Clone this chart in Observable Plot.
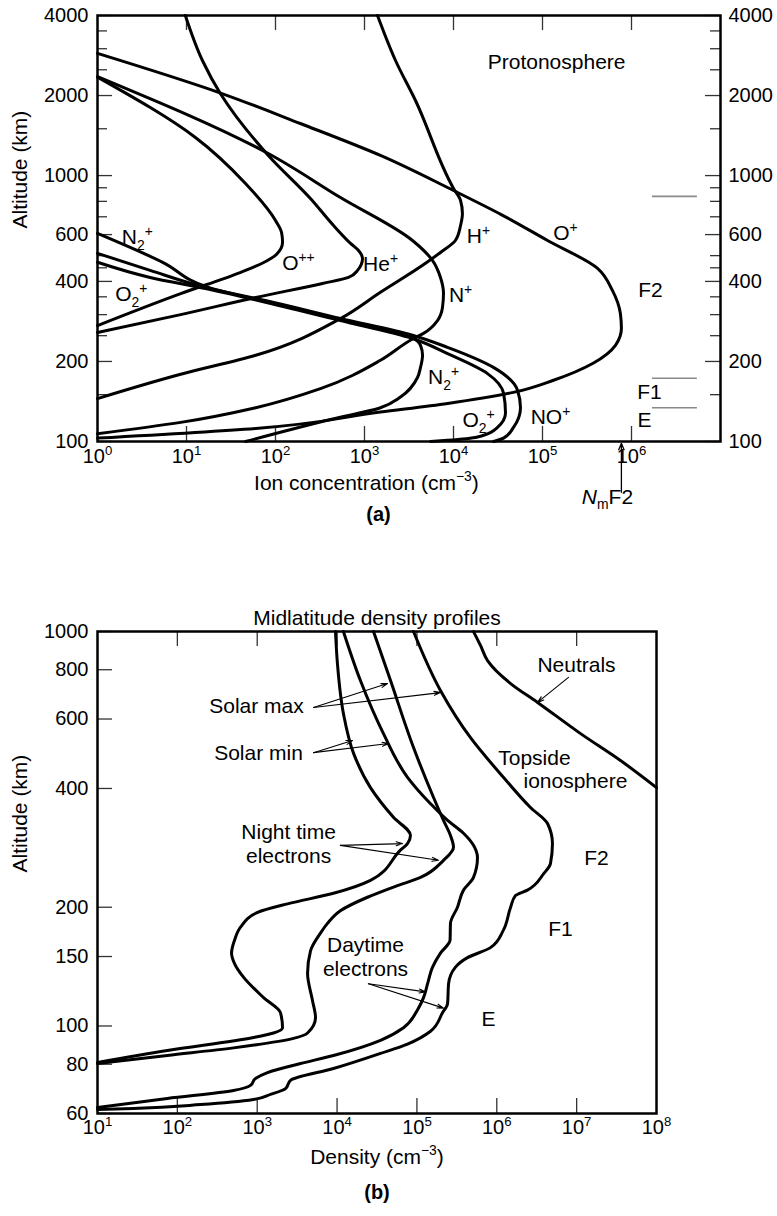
<!DOCTYPE html>
<html><head><meta charset="utf-8">
<script src="https://cdn.jsdelivr.net/npm/d3@7"></script>
<script src="https://cdn.jsdelivr.net/npm/@observablehq/plot@0.6"></script>
<style>
body{margin:0;background:#fff}
#wrap{position:relative;width:777px;height:1216px;background:#fff;overflow:hidden}
#a,#b{position:absolute;left:0}
#a{top:0}#b{top:560px}
svg{display:block;overflow:visible}
</style></head><body>
<div id="wrap"><div id="a"></div><div id="b"></div></div>
<script>
// ---------- Panel (a): ion concentration [cm^-3, altitude km] ----------
const oPlus = [[1,2881],[25,2035],[190,1570],[1510,1191],[1.0e4,879],[3.4e4,715],[1.14e5,570],[4.15e5,448],[6.1e5,370],[7.5e5,303],[7.7e5,266],[6.6e5,230],[3.7e5,197],[1.33e5,170],[4.7e4,153],[8600,139],[1510,129],[60,112],[1,103]];
const hPlus = [[1400,4000],[2230,2709],[3740,1916],[1.0e4,895],[1.2e4,806],[1.26e4,720],[1.2e4,649],[1.05e4,570],[7140,514],[4850,468],[1510,364],[537,290],[60,211],[8.6,179],[1,145]];
const hePlus = [[9.7,4000],[15.1,2709],[24,2035],[83,1191],[247,820],[449,649],[697,556],[857,523],[950,488],[835,440],[661,414],[337,393],[60,348],[8.6,300],[1,257]];
const oPlusPlus = [[1,2345],[12.6,1391],[46,934],[100,678],[117,611],[120,561],[103,506],[71,468],[40,432],[8.6,360],[1,273]];
const nPlus = [[1,2358],[83,1211],[537,827],[3460,570],[5800,480],[7140,414],[7720,361],[7520,319],[6610,285],[4600,255],[3550,244],[1510,202],[320,158],[60,134],[8.6,118],[1,107]];
const n2Plus = [[1,606],[5.4,472],[17.7,380],[77,336],[537,288],[3460,246],[4260,230],[4490,211],[4260,190],[3940,174],[2540,147],[1510,134],[415,121],[46,100]];
const noPlus = [[1,510],[3.9,440],[16.3,380],[77,339],[537,290],[3460,251],[8570,226],[2.81e4,190],[5.24e4,156],[5.66e4,134],[4.72e4,113],[3.65e4,103],[2.81e4,100]];
const o2Plus = [[1,472],[3.9,414],[16.3,376],[77,334],[537,285],[3460,244],[8570,214],[2.41e4,180],[3.65e4,152],[3.84e4,128],[3.12e4,113],[1.86e4,104],[8570,101],[5520,100]];
const ionSeries = [["O+",oPlus],["H+",hPlus],["He+",hePlus],["O++",oPlusPlus],["N+",nPlus],["N2+",n2Plus],["NO+",noPlus],["O2+",o2Plus]];

const xLabelTicksA = [1,10,100,1e3,1e4,1e5,1e6];
const xInnerTicksA = [10,100,1e3,1e4,1e5,1e6];
const yMajorA = [100,200,400,600,1000,2000,4000];
const yMinorA = [150,250,300,350,450,500,700,800,900,1500,2500,3000,3500];
const regionBounds = [{alt:835,from:1.72e6,to:5.5e6},{alt:173,from:1.72e6,to:5.5e6},{alt:134,from:1.72e6,to:5.5e6}];
const ionLabels = [
  {text:"Protonosphere",conc:1.44e5,alt:2663},
  {text:"O^{+}",conc:1.81e5,alt:606},
  {text:"H^{+}",conc:1.91e4,alt:590},
  {text:"N^{+}",conc:1.2e4,alt:354},
  {text:"He^{+}",conc:1514,alt:464},
  {text:"O^{++}",conc:181,alt:468},
  {text:"N_{2}^{+}",conc:2.8,alt:585},
  {text:"O_{2}^{+}",conc:2.4,alt:358},
  {text:"N_{2}^{+}",conc:7720,alt:174},
  {text:"O_{2}^{+}",conc:1.91e4,alt:120},
  {text:"NO^{+}",conc:1.23e5,alt:123},
  {text:"F2",conc:1.63e6,alt:370},
  {text:"F1",conc:1.59e6,alt:153},
  {text:"E",conc:1.4e6,alt:120}
];

// ---------- Panel (b): midlatitude density profiles ----------
const neutrals = [[5.11e5,1000],[6.25e5,922],[7.66e5,844],[1.49e6,738],[3.24e6,661],[1.12e7,551],[3.54e7,471],[1e8,402]];
const nightSolarMin = [[9550,1000],[1.01e4,830],[1.2e4,620],[1.61e4,491],[2.62e4,402],[5.08e4,338],[8.3e4,304],[7.62e4,290],[6.22e4,279],[2.62e4,234],[9020,217],[2400,204],[1010,194],[618,178],[520,165],[477,153],[520,144],[673,133],[1200,118],[1958,108],[2075,99],[1600,96],[898,93.5],[75,86.7],[10,80.8]];
const nightSolarMax = [[2.86e4,1000],[4.67e4,751],[9.06e4,508],[1.61e5,380],[2.15e5,332],[2.63e5,304],[2.87e5,284],[2.15e5,263],[1.11e5,238],[5.4e4,226],[2.4e4,212],[1.1e4,196],[7590,182],[6200,172],[4650,155],[4270,136],[4920,116],[5370,105],[4270,96],[2845,93],[505,88],[75,84.2],[10,80.3]];
const daySolarMin = [[1.2e4,1000],[1.96e4,751],[3.81e4,551],[7.62e4,427],[1.48e5,366],[2.42e5,332],[3.83e5,308],[5.11e5,287],[5.73e5,267],[5.11e5,238],[3.83e5,221],[3.22e5,200],[2.63e5,182],[2.6e5,165],[1.97e5,153],[1.57e5,141],[1.36e5,128],[1.21e5,118],[1.02e5,110],[6.79e4,99],[3.5e4,92],[9020,84.2],[3480,80.3],[1346,76.2],[951,73.6],[824,70.7],[505,68.6],[75,65.5],[10,62.1]];
const daySolarMax = [[9.06e4,1000],[1.97e5,709],[4.69e5,538],[1.21e6,427],[2.64e6,358],[4.32e6,326],[4.98e6,290],[4.7e6,258],[3.85e6,243],[2.42e6,221],[1.71e6,214],[1.49e6,200],[1.21e6,175],[8.34e5,158],[4.3e5,149],[3.04e5,141],[2.49e5,128],[2.42e5,114],[2.09e5,108],[1.48e5,97],[7.62e4,90],[3.5e4,85.2],[9020,78],[2610,72.8],[2262,69.4],[1466,67.1],[898,65.1],[195,63.2],[28,61.8],[10,61.4]];
const profileSeries = [["Neutrals",neutrals],["Night min",nightSolarMin],["Night max",nightSolarMax],["Day min",daySolarMin],["Day max",daySolarMax]];

const xLabelTicksB = [10,100,1e3,1e4,1e5,1e6,1e7,1e8];
const xInnerTicksB = [100,1e3,1e4,1e5,1e6,1e7];
const yTicksB = [60,80,100,150,200,400,600,800,1000];
const profileLabels = [
  {text:"Solar max",d:979,alt:649},
  {text:"Solar min",d:1037,alt:493},
  {text:"Neutrals",d:9.95e6,alt:825},
  {text:"Topside",d:2.96e6,alt:479},
  {text:"ionosphere",d:9.66e6,alt:419},
  {text:"F2",d:1.77e7,alt:267},
  {text:"F1",d:6.28e6,alt:177},
  {text:"E",d:7.87e5,alt:104.5},
  {text:"Night time\nelectrons",d:2.47e3,alt:290},
  {text:"Daytime\nelectrons",d:2.27e4,alt:150}
];
const pointerArrows = [
  {x1:5.07e3,y1:642,x2:4.28e4,y2:738},{x1:5.07e3,y1:642,x2:1.97e5,y2:700},
  {x1:5.07e3,y1:493,x2:1.56e4,y2:529},{x1:5.07e3,y1:493,x2:4.41e4,y2:520},
  {x1:7.9e6,y1:765,x2:3.24e6,y2:661},
  {x1:1.1e4,y1:287,x2:6.59e4,y2:290},{x1:1.1e4,y1:287,x2:1.86e5,y2:263},
  {x1:2.47e4,y1:128,x2:1.28e5,y2:122},{x1:2.47e4,y1:128,x2:2.15e5,y2:111}
];

// ---------- helpers ----------
const toRows = series => series.flatMap(([name, pts]) => pts.map(([v, alt]) => ({name, v, alt})));
const pow10 = d => `10^{${Math.round(Math.log10(d))}}`;
const FONT = "'Liberation Sans', Arial, Helvetica, sans-serif";
const TICK = "#333";

function richify(svg){
  const NS = "http://www.w3.org/2000/svg";
  svg.querySelectorAll("text").forEach(t => {
    const s = t.textContent;
    if (!/[\^_*]\{/.test(s)) return;
    const fs = parseFloat(getComputedStyle(t).fontSize) || 20;
    while (t.firstChild) t.removeChild(t.firstChild);
    let shift = 0;
    s.split(/([\^_*]\{[^}]*\})/).forEach(p => {
      if (!p) return;
      const kind = (p.length > 2 && p[1] === "{" && "^_*".includes(p[0])) ? p[0] : "";
      const txt = kind ? p.slice(2, -1) : p;
      const target = kind === "^" ? -0.4 * fs : kind === "_" ? 0.28 * fs : 0;
      const ts = document.createElementNS(NS, "tspan");
      if (target !== shift) { ts.setAttribute("dy", (target - shift).toFixed(2)); shift = target; }
      if (kind === "^" || kind === "_") ts.setAttribute("font-size", (0.66 * fs).toFixed(1));
      if (kind === "*") ts.setAttribute("font-style", "italic");
      ts.textContent = txt;
      t.appendChild(ts);
    });
  });
}

// ---------- Panel (a) ----------
const WA = 777, HA = 560, mA = {top:15, right:57, bottom:119, left:97};
const fwA = WA - mA.left - mA.right, fhA = HA - mA.top - mA.bottom;
const nmF2 = d3.max(oPlus, d => d[0]);
const plotA = Plot.plot({
  width: WA, height: HA,
  marginTop: mA.top, marginRight: mA.right, marginBottom: mA.bottom, marginLeft: mA.left,
  x: {type: "log", domain: [1, 1e7], axis: null},
  y: {type: "log", domain: [100, 4000], axis: null},
  style: {fontFamily: FONT, fontSize: "20px", background: "white", color: "black"},
  marks: [
    Plot.ruleX(xInnerTicksA, {x: d => d, insetTop: fhA - 15, stroke: TICK, strokeWidth: 1.3}),
    Plot.ruleX(xInnerTicksA, {x: d => d, insetBottom: fhA - 15, stroke: TICK, strokeWidth: 1.3}),
    Plot.ruleY(yMajorA, {y: d => d, insetRight: fwA - 15, stroke: TICK, strokeWidth: 1.3}),
    Plot.ruleY(yMinorA, {y: d => d, insetRight: fwA - 10, stroke: TICK, strokeWidth: 1.3}),
    Plot.ruleY(yMajorA, {y: d => d, insetLeft: fwA - 15, stroke: TICK, strokeWidth: 1.3}),
    Plot.ruleY(yMinorA, {y: d => d, insetLeft: fwA - 10, stroke: TICK, strokeWidth: 1.3}),
    Plot.ruleY(regionBounds, {y: "alt", x1: "from", x2: "to", stroke: "#8a8a8a", strokeWidth: 1.6}),
    Plot.line(toRows(ionSeries), {x: "v", y: "alt", z: "name", curve: "monotone-y", stroke: "black", strokeWidth: 3}),
    Plot.text(ionLabels, {x: "conc", y: "alt", text: "text", fontSize: 21, fill: "black"}),
    Plot.frame({stroke: "black", strokeWidth: 2.5}),
    Plot.text(xLabelTicksA, {x: d => d, frameAnchor: "bottom", dy: 21, text: pow10, fontSize: 20}),
    Plot.text(yMajorA, {y: d => d, frameAnchor: "left", dx: -9, textAnchor: "end", text: d => String(d), fontSize: 20}),
    Plot.text(yMajorA, {y: d => d, frameAnchor: "right", dx: 8, textAnchor: "start", text: d => String(d), fontSize: 20}),
    Plot.text(["Altitude (km)"], {frameAnchor: "left", dx: -77, rotate: -90, text: d => d, fontSize: 21}),
    Plot.text(["Ion concentration (cm^{\u22123})"], {x: 1052, frameAnchor: "bottom", dy: 48, text: d => d, fontSize: 21}),
    Plot.text(["(a)"], {x: 1437, frameAnchor: "bottom", dy: 79, text: d => d, fontSize: 20, fontWeight: "bold"}),
    Plot.text(["*{N}_{m}F2"], {x: 5.37e5, frameAnchor: "bottom", dy: 62, text: d => d, fontSize: 21}),
    Plot.arrow([nmF2], {x1: d => d, x2: d => d, y1: 64.4, y2: 98.4, stroke: "black", strokeWidth: 1.3, headLength: 8, headAngle: 45})
  ]
});
document.getElementById("a").appendChild(plotA);
richify(plotA);

// ---------- Panel (b) ----------
const WB = 777, HB = 656, mB = {top:71, right:121, bottom:103, left:97};
const fwB = WB - mB.left - mB.right, fhB = HB - mB.top - mB.bottom;
const plotB = Plot.plot({
  width: WB, height: HB,
  marginTop: mB.top, marginRight: mB.right, marginBottom: mB.bottom, marginLeft: mB.left,
  x: {type: "log", domain: [10, 1e8], axis: null},
  y: {type: "log", domain: [60, 1000], axis: null},
  style: {fontFamily: FONT, fontSize: "20px", background: "white", color: "black"},
  marks: [
    Plot.ruleX(xInnerTicksB, {x: d => d, insetTop: fhB - 15, stroke: TICK, strokeWidth: 1.3}),
    Plot.ruleX(xInnerTicksB, {x: d => d, insetBottom: fhB - 15, stroke: TICK, strokeWidth: 1.3}),
    Plot.ruleY(yTicksB, {y: d => d, insetRight: fwB - 15, stroke: TICK, strokeWidth: 1.3}),
    Plot.line(toRows(profileSeries), {x: "v", y: "alt", z: "name", curve: "monotone-y", stroke: "black", strokeWidth: 3}),
    Plot.arrow(pointerArrows, {x1: "x1", y1: "y1", x2: "x2", y2: "y2", stroke: "black", strokeWidth: 1.1, headLength: 9, headAngle: 35}),
    Plot.text(profileLabels, {x: "d", y: "alt", text: "text", fontSize: 21, lineHeight: 1.12, fill: "black"}),
    Plot.frame({stroke: "black", strokeWidth: 2.5}),
    Plot.text(xLabelTicksB, {x: d => d, frameAnchor: "bottom", dy: 20, text: pow10, fontSize: 20}),
    Plot.text(yTicksB, {y: d => d, frameAnchor: "left", dx: -9, textAnchor: "end", text: d => String(d), fontSize: 20}),
    Plot.text(["Altitude (km)"], {frameAnchor: "left", dx: -77, rotate: -90, text: d => d, fontSize: 21}),
    Plot.text(["Midlatitude density profiles"], {frameAnchor: "top", dy: -21, text: d => d, fontSize: 21}),
    Plot.text(["Density (cm^{\u22123})"], {frameAnchor: "bottom", dy: 50, text: d => d, fontSize: 21}),
    Plot.text(["(b)"], {frameAnchor: "bottom", dy: 85, text: d => d, fontSize: 20, fontWeight: "bold"})
  ]
});
document.getElementById("b").appendChild(plotB);
richify(plotB);
</script>
</body></html>
